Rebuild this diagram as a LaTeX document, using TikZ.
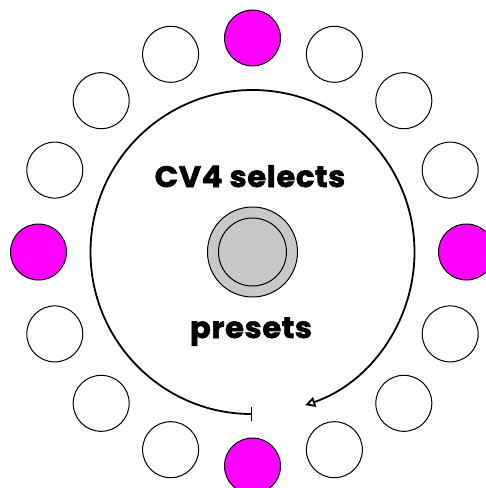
\documentclass[tikz,border=0pt]{standalone}
\usepackage{fontspec}
\setmainfont{Poppins}
\newfontfamily\heavyfont[FakeBold=2,FakeStretch=1.04,LetterSpace=2]{Poppins}
\usetikzlibrary{arrows.meta}
\definecolor{presetpink}{HTML}{FF00FF}
\definecolor{knobgray}{HTML}{C8C8C8}
\begin{document}
\begin{tikzpicture}[x=1pt,y=1pt,
  preset/.style={circle,draw,line width=1pt,minimum size=56pt,inner sep=0pt,fill=white},
  active/.style={preset,fill=presetpink},
  label text/.style={anchor=base,font=\heavyfont\bfseries\fontsize{29.5}{31}\selectfont}]
\useasboundingbox(-252.5,-236)rectangle(233.5,252);
% ring of presets, every fourth one lit
\foreach \i in {0,...,15}{
  \pgfmathsetmacro\a{90-22.5*\i}
  \ifnum\numexpr\i-4*(\i/4)\relax=0
    \node[active](p\i) at (\a:214){};
  \else
    \node[preset](p\i) at (\a:214){};
  \fi
}
% selection arc
\draw[line width=1.8pt,{Bar[width=14pt]}-{Triangle[open,length=10pt,width=10pt]}]
  (270:162) arc[start angle=270,end angle=-71,radius=162];
% knob
\node[circle,draw,line width=1pt,fill=knobgray,minimum size=90pt](knob) at (0,0){};
\node[circle,draw,line width=1pt,minimum size=68pt](knobin) at (0,0){};
\node[label text](sel) at (-2.5,65){CV4 selects};
\node[label text](pre) at (-1.5,-86){presets};
\end{tikzpicture}
\end{document}
